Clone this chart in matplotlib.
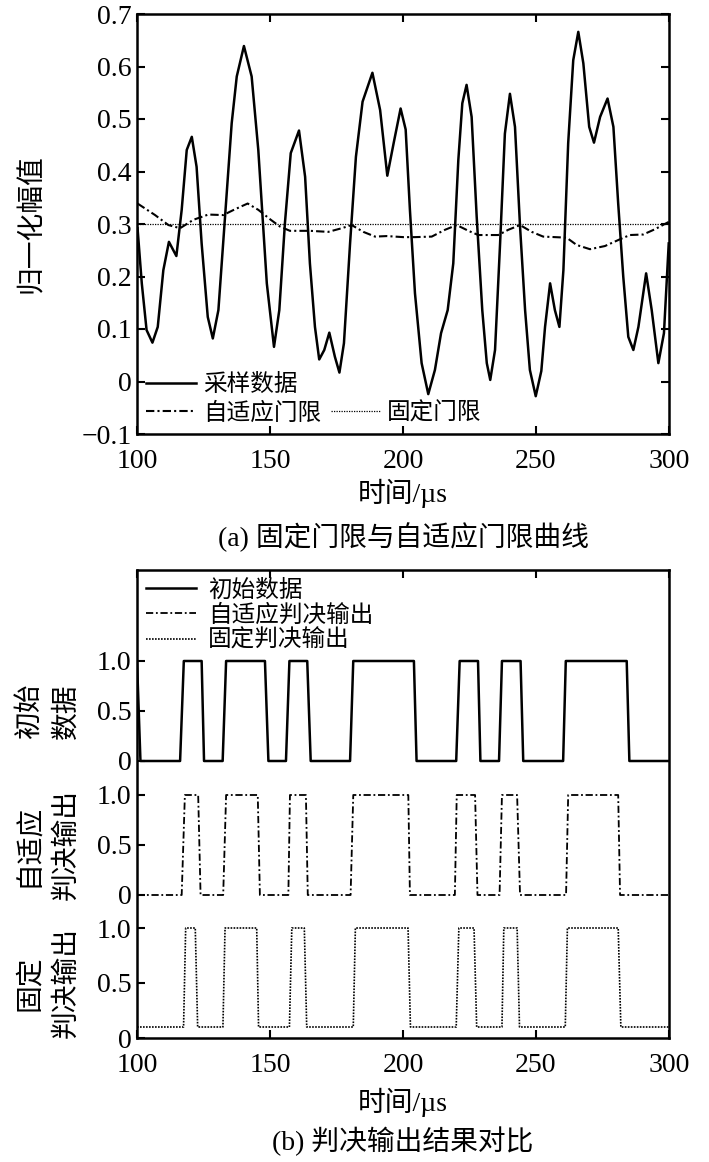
import matplotlib
matplotlib.use("Agg")
import matplotlib.pyplot as plt
from matplotlib.lines import Line2D

plt.rcParams['font.family'] = ['Liberation Serif', 'Noto Sans CJK SC', 'DejaVu Sans']
plt.rcParams['axes.unicode_minus'] = True

t_samp = [100.2, 101.8, 103.6, 105.8, 107.8, 109.9, 112.0, 114.8, 116.8, 118.7,
          120.6, 122.4, 124.3, 126.6, 128.5, 130.6, 133.1, 135.6, 137.5, 140.2,
          143.1, 145.6, 148.8, 151.5, 153.5, 155.6, 157.8, 160.9, 163.2, 165.0,
          166.9, 168.5, 170.4, 172.3, 174.4, 176.1, 177.8, 180.1, 182.3, 184.8,
          188.5, 191.4, 194.1, 196.6, 199.1, 201.0, 202.6, 204.5, 207.0, 209.5,
          212.0, 214.3, 216.8, 218.9, 220.8, 222.3, 223.9, 225.8, 227.7, 229.8,
          231.5, 232.8, 234.6, 236.5, 238.3, 240.2, 242.1, 244.0, 245.9, 247.7,
          249.9, 252.0, 253.4, 255.3, 257.1, 258.8, 260.3, 262.1, 264.0, 265.9,
          267.8, 270.0, 271.8, 274.1, 276.9, 279.1, 280.9, 282.8, 284.7, 286.6,
          288.5, 291.4, 293.5, 296.0, 298.1, 299.9]
v_samp = [0.292, 0.187, 0.098, 0.074, 0.104, 0.212, 0.266, 0.239, 0.327, 0.441,
          0.466, 0.409, 0.263, 0.123, 0.082, 0.136, 0.314, 0.492, 0.581, 0.639,
          0.581, 0.441, 0.187, 0.066, 0.136, 0.301, 0.435, 0.478, 0.390, 0.225,
          0.104, 0.042, 0.060, 0.093, 0.047, 0.017, 0.073, 0.263, 0.428, 0.533,
          0.588, 0.517, 0.392, 0.457, 0.520, 0.480, 0.327, 0.168, 0.035, -0.024,
          0.022, 0.092, 0.136, 0.225, 0.422, 0.530, 0.565, 0.504, 0.314, 0.136,
          0.035, 0.003, 0.060, 0.263, 0.472, 0.548, 0.485, 0.295, 0.136, 0.022,
          -0.028, 0.020, 0.104, 0.187, 0.136, 0.104, 0.212, 0.454, 0.612, 0.666,
          0.606, 0.485, 0.455, 0.504, 0.539, 0.485, 0.339, 0.200, 0.085, 0.060,
          0.104, 0.206, 0.136, 0.035, 0.092, 0.263]

t_adapt = [100.2, 106.8, 111.8, 116.2, 121.2, 126.8, 132.4, 136.8, 141.6, 145.6,
           150.3, 153.8, 157.5, 165.0, 171.9, 177.0, 180.7, 185.1, 189.5, 193.9,
           200.1, 204.5, 210.8, 215.8, 220.2, 224.6, 228.3, 235.8, 239.6, 244.0,
           248.4, 252.7, 261.5, 265.3, 270.3, 275.9, 281.6, 285.3, 290.3, 294.7, 299.9]
v_adapt = [0.339, 0.317, 0.298, 0.292, 0.308, 0.318, 0.317, 0.328, 0.339, 0.327,
           0.308, 0.295, 0.287, 0.287, 0.285, 0.292, 0.298, 0.285, 0.276, 0.277,
           0.275, 0.275, 0.276, 0.289, 0.298, 0.287, 0.279, 0.279, 0.289, 0.298,
           0.285, 0.276, 0.274, 0.260, 0.252, 0.258, 0.271, 0.279, 0.280, 0.290, 0.304]

fixed_thr = 0.3

# ---- (b) decision outputs: edge times and levels ----
t_init = [100, 101.3, 116.2, 117.6, 124.3, 125.2, 132.2, 133.5, 148.1, 149.4,
          156.0, 157.3, 164.0, 165.3, 180.1, 181.3, 204.1, 205.1, 220.0, 221.3,
          228.2, 229.1, 236.1, 237.2, 244.2, 245.2, 260.2, 261.2, 284.1, 285.1, 300]
v_init = [1, 0, 0, 1, 1, 0, 0, 1, 1, 0, 0, 1, 1, 0, 0, 1, 1, 0, 0, 1,
          1, 0, 0, 1, 1, 0, 0, 1, 1, 0, 0]

t_adout = [100, 116.8, 118.0, 123.0, 123.9, 132.4, 133.5, 145.4, 146.2, 156.9,
           157.5, 163.5, 164.2, 180.3, 181.3, 202.0, 202.6, 219.5, 220.2, 227.1,
           228.0, 236.3, 237.2, 242.9, 244.0, 261.3, 262.1, 280.9, 281.6, 300]
v_adout = [0, 0, 1, 1, 0, 0, 1, 1, 0, 0, 1, 1, 0, 0, 1, 1, 0, 0, 1, 1,
           0, 0, 1, 1, 0, 0, 1, 1, 0, 0]

t_fxout = [100, 117.5, 118.3, 121.9, 122.8, 132.3, 133.1, 145.0, 145.7, 157.3,
           158.2, 162.9, 163.8, 181.3, 182.1, 201.9, 202.8, 220.0, 221.0, 226.7,
           227.7, 237.2, 237.9, 242.9, 243.8, 261.0, 261.8, 280.9, 281.9, 300]
v_fxout = [0.1, 0.1, 1, 1, 0.1, 0.1, 1, 1, 0.1, 0.1, 1, 1, 0.1, 0.1, 1, 1, 0.1, 0.1, 1, 1,
           0.1, 0.1, 1, 1, 0.1, 0.1, 1, 1, 0.1, 0.1]

FS = 20
LFS = 17

fig = plt.figure(figsize=(7.09, 11.62), dpi=100)
W, H = 709.0, 1162.0
ax1 = fig.add_axes([137 / W, 1 - 434 / H, 532 / W, 420 / H])
ax2 = fig.add_axes([137 / W, 1 - 1038 / H, 532 / W, 468 / H])

for ax in (ax1, ax2):
    for s in ax.spines.values():
        s.set_linewidth(1.8)
    ax.tick_params(direction='in', length=6, width=1.5, labelsize=FS)
    ax.tick_params(axis='x', pad=11)
    ax.tick_params(axis='y', pad=4)

# (a)
l1, = ax1.plot(t_samp, v_samp, color='k', lw=1.8, label='采样数据')
l2, = ax1.plot(t_adapt, v_adapt, color='k', lw=1.5, ls=(0, (4, 1.5, 1, 1.5)), label='自适应门限')
l3 = ax1.axhline(fixed_thr, color='k', lw=0.9, ls=(0, (1, 1)), label='固定门限')
ax1.set_xlim(100, 300)
ax1.set_ylim(-0.1, 0.7)
ax1.set_xticks([100, 150, 200, 250, 300])
ax1.set_yticks([-0.1, 0, 0.1, 0.2, 0.3, 0.4, 0.5, 0.6, 0.7])
ax1.set_yticklabels(['\u22120.1', '0', '0.1', '0.2', '0.3', '0.4', '0.5', '0.6', '0.7'])
ax1.tick_params(top=True, right=True)
ax1.set_ylabel('归一化幅值', fontsize=FS)
ax1.yaxis.set_label_coords(-0.173, 0.5)
blank = Line2D([], [], color='none')
ax1.legend([l1, l2, blank, l3], ['采样数据', '自适应门限', '', '固定门限'], ncol=2,
           loc='lower left', bbox_to_anchor=(0.0, 0.0), frameon=False, fontsize=LFS,
           handlelength=2.1, handletextpad=0.3, columnspacing=0.4, labelspacing=0.25,
           borderpad=0.3, borderaxespad=0.1)

# (b)
offsets = [2.77, 1.43, 0.0]
scales = [1.0, 1.0, 1.1]
b1, = ax2.plot(t_init, [offsets[0] + scales[0] * v for v in v_init], color='k', lw=1.8, label='初始数据')
b2, = ax2.plot(t_adout, [offsets[1] + scales[1] * v for v in v_adout], color='k', lw=1.3,
               ls=(0, (4, 1.5, 1, 1.5)), label='自适应判决输出')
b3, = ax2.plot(t_fxout, [offsets[2] + scales[2] * v for v in v_fxout], color='k', lw=1.2,
               ls=(0, (1, 0.8)), label='固定判决输出')
ax2.set_xlim(100, 300)
ax2.set_ylim(0, 4.68)
ax2.set_xticks([100, 150, 200, 250, 300])
yt, yl = [], []
for off, sc in zip(offsets, scales):
    for v, lab in zip([0, 0.5, 1.0], ['0', '0.5', '1.0']):
        yt.append(off + sc * v)
        yl.append(lab)
ax2.set_yticks(yt)
ax2.set_yticklabels(yl)
ax2.tick_params(top=True, right=False)
ax2.legend(loc='upper left', frameon=False, fontsize=LFS, handlelength=2.1,
           handletextpad=0.5, labelspacing=0.12, borderpad=0.2, borderaxespad=0.2)

row_labels = ['初始\n数据', '自适应\n判决输出', '固定\n判决输出']
for off, sc, lab in zip(offsets, scales, row_labels):
    ax2.text(-0.167, off + sc * 0.5, lab, transform=ax2.get_yaxis_transform(),
             rotation=90, ha='center', va='center', multialignment='center',
             fontsize=FS, linespacing=1.55)

cx = 403 / W
fig.text(cx, 1 - 493 / H, '时间/µs', ha='center', va='center', fontsize=FS)
fig.text(cx, 1 - 537 / H, '(a) 固定门限与自适应门限曲线', ha='center', va='center', fontsize=FS)
fig.text(cx, 1 - 1102 / H, '时间/µs', ha='center', va='center', fontsize=FS)
fig.text(cx, 1 - 1141 / H, '(b) 判决输出结果对比', ha='center', va='center', fontsize=FS)

fig.savefig('out.png', dpi=100)
